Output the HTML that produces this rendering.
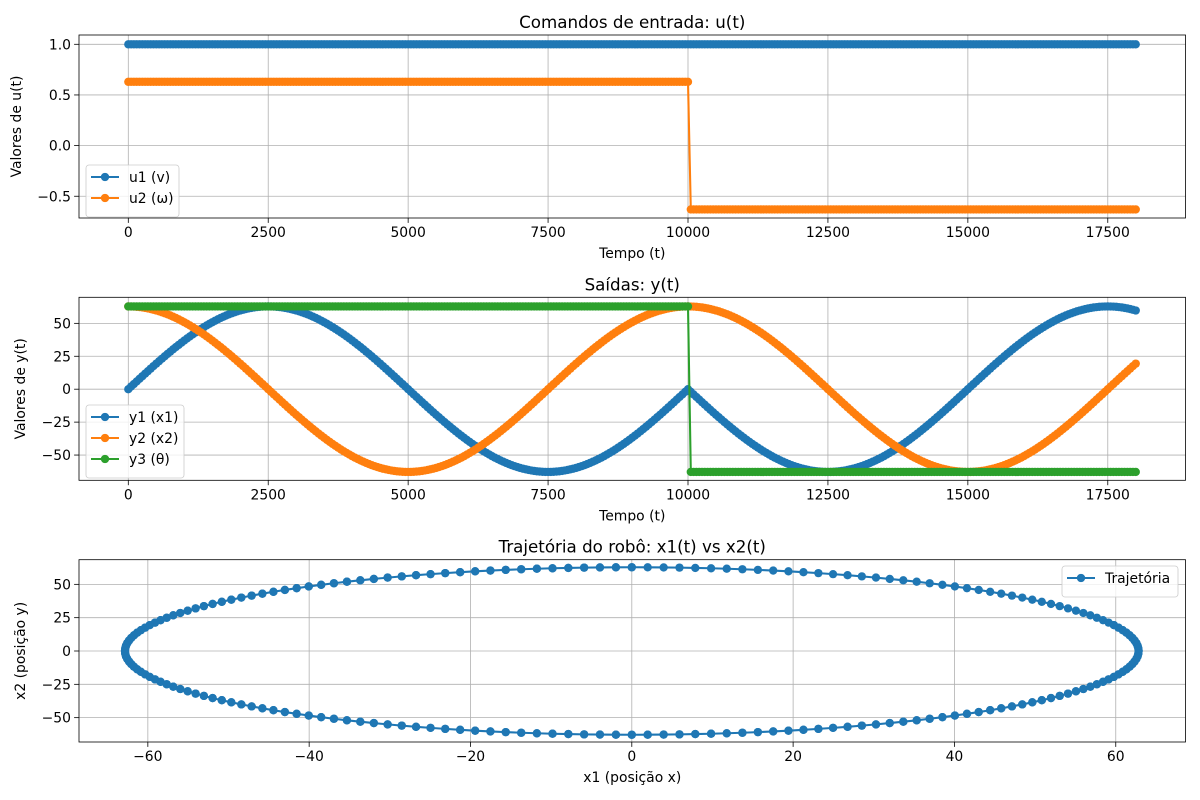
<!DOCTYPE html>
<html><head><meta charset="utf-8"><style>
body{margin:0;background:#fff;}
svg{display:block;font-family:"DejaVu Sans","Liberation Sans",sans-serif;}
</style></head><body>
<svg id="fig" width="1200" height="800" viewBox="0 0 1200 800" xmlns="http://www.w3.org/2000/svg"></svg>
<script>
const u1 = [1,1,1,1,1,1,1,1,1,1,1,1,1,1,1,1,1,1,1,1,1,1,1,1,1,1,1,1,1,1,1,1,1,1,1,1,1,1,1,1,
1,1,1,1,1,1,1,1,1,1,1,1,1,1,1,1,1,1,1,1,1,1,1,1,1,1,1,1,1,1,1,1,1,1,1,1,1,1,1,1,
1,1,1,1,1,1,1,1,1,1,1,1,1,1,1,1,1,1,1,1,1,1,1,1,1,1,1,1,1,1,1,1,1,1,1,1,1,1,1,1,
1,1,1,1,1,1,1,1,1,1,1,1,1,1,1,1,1,1,1,1,1,1,1,1,1,1,1,1,1,1,1,1,1,1,1,1,1,1,1,1,
1,1,1,1,1,1,1,1,1,1,1,1,1,1,1,1,1,1,1,1,1,1,1,1,1,1,1,1,1,1,1,1,1,1,1,1,1,1,1,1,
1,1,1,1,1,1,1,1,1,1,1,1,1,1,1,1,1,1,1,1,1,1,1,1,1,1,1,1,1,1,1,1,1,1,1,1,1,1,1,1,
1,1,1,1,1,1,1,1,1,1,1,1,1,1,1,1,1,1,1,1,1,1,1,1,1,1,1,1,1,1,1,1,1,1,1,1,1,1,1,1,
1,1,1,1,1,1,1,1,1,1,1,1,1,1,1,1,1,1,1,1,1,1,1,1,1,1,1,1,1,1,1,1,1,1,1,1,1,1,1,1,
1,1,1,1,1,1,1,1,1,1,1,1,1,1,1,1,1,1,1,1,1,1,1,1,1,1,1,1,1,1,1,1,1,1,1,1,1,1,1,1,
1];
const u2 = [0.63,0.63,0.63,0.63,0.63,0.63,0.63,0.63,0.63,0.63,0.63,0.63,0.63,0.63,0.63,0.63,0.63,0.63,0.63,0.63,
0.63,0.63,0.63,0.63,0.63,0.63,0.63,0.63,0.63,0.63,0.63,0.63,0.63,0.63,0.63,0.63,0.63,0.63,0.63,0.63,
0.63,0.63,0.63,0.63,0.63,0.63,0.63,0.63,0.63,0.63,0.63,0.63,0.63,0.63,0.63,0.63,0.63,0.63,0.63,0.63,
0.63,0.63,0.63,0.63,0.63,0.63,0.63,0.63,0.63,0.63,0.63,0.63,0.63,0.63,0.63,0.63,0.63,0.63,0.63,0.63,
0.63,0.63,0.63,0.63,0.63,0.63,0.63,0.63,0.63,0.63,0.63,0.63,0.63,0.63,0.63,0.63,0.63,0.63,0.63,0.63,
0.63,0.63,0.63,0.63,0.63,0.63,0.63,0.63,0.63,0.63,0.63,0.63,0.63,0.63,0.63,0.63,0.63,0.63,0.63,0.63,
0.63,0.63,0.63,0.63,0.63,0.63,0.63,0.63,0.63,0.63,0.63,0.63,0.63,0.63,0.63,0.63,0.63,0.63,0.63,0.63,
0.63,0.63,0.63,0.63,0.63,0.63,0.63,0.63,0.63,0.63,0.63,0.63,0.63,0.63,0.63,0.63,0.63,0.63,0.63,0.63,
0.63,0.63,0.63,0.63,0.63,0.63,0.63,0.63,0.63,0.63,0.63,0.63,0.63,0.63,0.63,0.63,0.63,0.63,0.63,0.63,
0.63,0.63,0.63,0.63,0.63,0.63,0.63,0.63,0.63,0.63,0.63,0.63,0.63,0.63,0.63,0.63,0.63,0.63,0.63,0.63,
0.63,
-0.63,-0.63,-0.63,-0.63,-0.63,-0.63,-0.63,-0.63,-0.63,-0.63,-0.63,-0.63,-0.63,-0.63,-0.63,-0.63,-0.63,-0.63,-0.63,-0.63,
-0.63,-0.63,-0.63,-0.63,-0.63,-0.63,-0.63,-0.63,-0.63,-0.63,-0.63,-0.63,-0.63,-0.63,-0.63,-0.63,-0.63,-0.63,-0.63,-0.63,
-0.63,-0.63,-0.63,-0.63,-0.63,-0.63,-0.63,-0.63,-0.63,-0.63,-0.63,-0.63,-0.63,-0.63,-0.63,-0.63,-0.63,-0.63,-0.63,-0.63,
-0.63,-0.63,-0.63,-0.63,-0.63,-0.63,-0.63,-0.63,-0.63,-0.63,-0.63,-0.63,-0.63,-0.63,-0.63,-0.63,-0.63,-0.63,-0.63,-0.63,
-0.63,-0.63,-0.63,-0.63,-0.63,-0.63,-0.63,-0.63,-0.63,-0.63,-0.63,-0.63,-0.63,-0.63,-0.63,-0.63,-0.63,-0.63,-0.63,-0.63,
-0.63,-0.63,-0.63,-0.63,-0.63,-0.63,-0.63,-0.63,-0.63,-0.63,-0.63,-0.63,-0.63,-0.63,-0.63,-0.63,-0.63,-0.63,-0.63,-0.63,
-0.63,-0.63,-0.63,-0.63,-0.63,-0.63,-0.63,-0.63,-0.63,-0.63,-0.63,-0.63,-0.63,-0.63,-0.63,-0.63,-0.63,-0.63,-0.63,-0.63,
-0.63,-0.63,-0.63,-0.63,-0.63,-0.63,-0.63,-0.63,-0.63,-0.63,-0.63,-0.63,-0.63,-0.63,-0.63,-0.63,-0.63,-0.63,-0.63,-0.63];
const y1 = [0,
1.97,3.95,5.91,7.87,9.83,11.77,13.71,15.63,17.53,19.42,21.28,23.13,24.95,26.75,28.52,30.27,31.98,33.66,35.32,36.93,38.51,40.05,41.55,43.01,44.43,45.80,47.13,48.41,49.65,50.83,51.97,53.05,54.08,55.06,55.98,56.85,57.66,58.42,59.11,59.76,60.33,60.86,61.32,61.72,62.06,62.33,62.55,62.71,62.80,62.83,
62.80,62.71,62.55,62.33,62.06,61.72,61.32,60.86,60.33,59.76,59.11,58.42,57.66,56.85,55.98,55.06,54.08,53.05,51.97,50.83,49.65,48.41,47.13,45.80,44.43,43.01,41.55,40.05,38.51,36.93,35.32,33.66,31.98,30.27,28.52,26.75,24.95,23.13,21.28,19.42,17.53,15.63,13.71,11.77,9.83,7.87,5.91,3.95,1.97,0,
-1.97,-3.95,-5.91,-7.87,-9.83,-11.77,-13.71,-15.63,-17.53,-19.42,-21.28,-23.13,-24.95,-26.75,-28.52,-30.27,-31.98,-33.66,-35.32,-36.93,-38.51,-40.05,-41.55,-43.01,-44.43,-45.80,-47.13,-48.41,-49.65,-50.83,-51.97,-53.05,-54.08,-55.06,-55.98,-56.85,-57.66,-58.42,-59.11,-59.76,-60.33,-60.86,-61.32,-61.72,-62.06,-62.33,-62.55,-62.71,-62.80,-62.83,
-62.80,-62.71,-62.55,-62.33,-62.06,-61.72,-61.32,-60.86,-60.33,-59.76,-59.11,-58.42,-57.66,-56.85,-55.98,-55.06,-54.08,-53.05,-51.97,-50.83,-49.65,-48.41,-47.13,-45.80,-44.43,-43.01,-41.55,-40.05,-38.51,-36.93,-35.32,-33.66,-31.98,-30.27,-28.52,-26.75,-24.95,-23.13,-21.28,-19.42,-17.53,-15.63,-13.71,-11.77,-9.83,-7.87,-5.91,-3.95,-1.97,0,
-1.97,-3.95,-5.91,-7.87,-9.83,-11.77,-13.71,-15.63,-17.53,-19.42,-21.28,-23.13,-24.95,-26.75,-28.52,-30.27,-31.98,-33.66,-35.32,-36.93,-38.51,-40.05,-41.55,-43.01,-44.43,-45.80,-47.13,-48.41,-49.65,-50.83,-51.97,-53.05,-54.08,-55.06,-55.98,-56.85,-57.66,-58.42,-59.11,-59.76,-60.33,-60.86,-61.32,-61.72,-62.06,-62.33,-62.55,-62.71,-62.80,-62.83,
-62.80,-62.71,-62.55,-62.33,-62.06,-61.72,-61.32,-60.86,-60.33,-59.76,-59.11,-58.42,-57.66,-56.85,-55.98,-55.06,-54.08,-53.05,-51.97,-50.83,-49.65,-48.41,-47.13,-45.80,-44.43,-43.01,-41.55,-40.05,-38.51,-36.93,-35.32,-33.66,-31.98,-30.27,-28.52,-26.75,-24.95,-23.13,-21.28,-19.42,-17.53,-15.63,-13.71,-11.77,-9.83,-7.87,-5.91,-3.95,-1.97,0,
1.97,3.95,5.91,7.87,9.83,11.77,13.71,15.63,17.53,19.42,21.28,23.13,24.95,26.75,28.52,30.27,31.98,33.66,35.32,36.93,38.51,40.05,41.55,43.01,44.43,45.80,47.13,48.41,49.65,50.83,51.97,53.05,54.08,55.06,55.98,56.85,57.66,58.42,59.11,59.76,60.33,60.86,61.32,61.72,62.06,62.33,62.55,62.71,62.80,62.83,
62.80,62.71,62.55,62.33,62.06,61.72,61.32,60.86,60.33,59.76];
const y2 = [62.83,
62.80,62.71,62.55,62.33,62.06,61.72,61.32,60.86,60.33,59.76,59.11,58.42,57.66,56.85,55.98,55.06,54.08,53.05,51.97,50.83,49.65,48.41,47.13,45.80,44.43,43.01,41.55,40.05,38.51,36.93,35.32,33.66,31.98,30.27,28.52,26.75,24.95,23.13,21.28,19.42,17.53,15.63,13.71,11.77,9.83,7.87,5.91,3.95,1.97,0,
-1.97,-3.95,-5.91,-7.87,-9.83,-11.77,-13.71,-15.63,-17.53,-19.42,-21.28,-23.13,-24.95,-26.75,-28.52,-30.27,-31.98,-33.66,-35.32,-36.93,-38.51,-40.05,-41.55,-43.01,-44.43,-45.80,-47.13,-48.41,-49.65,-50.83,-51.97,-53.05,-54.08,-55.06,-55.98,-56.85,-57.66,-58.42,-59.11,-59.76,-60.33,-60.86,-61.32,-61.72,-62.06,-62.33,-62.55,-62.71,-62.80,-62.83,
-62.80,-62.71,-62.55,-62.33,-62.06,-61.72,-61.32,-60.86,-60.33,-59.76,-59.11,-58.42,-57.66,-56.85,-55.98,-55.06,-54.08,-53.05,-51.97,-50.83,-49.65,-48.41,-47.13,-45.80,-44.43,-43.01,-41.55,-40.05,-38.51,-36.93,-35.32,-33.66,-31.98,-30.27,-28.52,-26.75,-24.95,-23.13,-21.28,-19.42,-17.53,-15.63,-13.71,-11.77,-9.83,-7.87,-5.91,-3.95,-1.97,0,
1.97,3.95,5.91,7.87,9.83,11.77,13.71,15.63,17.53,19.42,21.28,23.13,24.95,26.75,28.52,30.27,31.98,33.66,35.32,36.93,38.51,40.05,41.55,43.01,44.43,45.80,47.13,48.41,49.65,50.83,51.97,53.05,54.08,55.06,55.98,56.85,57.66,58.42,59.11,59.76,60.33,60.86,61.32,61.72,62.06,62.33,62.55,62.71,62.80,62.83,
62.80,62.71,62.55,62.33,62.06,61.72,61.32,60.86,60.33,59.76,59.11,58.42,57.66,56.85,55.98,55.06,54.08,53.05,51.97,50.83,49.65,48.41,47.13,45.80,44.43,43.01,41.55,40.05,38.51,36.93,35.32,33.66,31.98,30.27,28.52,26.75,24.95,23.13,21.28,19.42,17.53,15.63,13.71,11.77,9.83,7.87,5.91,3.95,1.97,0,
-1.97,-3.95,-5.91,-7.87,-9.83,-11.77,-13.71,-15.63,-17.53,-19.42,-21.28,-23.13,-24.95,-26.75,-28.52,-30.27,-31.98,-33.66,-35.32,-36.93,-38.51,-40.05,-41.55,-43.01,-44.43,-45.80,-47.13,-48.41,-49.65,-50.83,-51.97,-53.05,-54.08,-55.06,-55.98,-56.85,-57.66,-58.42,-59.11,-59.76,-60.33,-60.86,-61.32,-61.72,-62.06,-62.33,-62.55,-62.71,-62.80,-62.83,
-62.80,-62.71,-62.55,-62.33,-62.06,-61.72,-61.32,-60.86,-60.33,-59.76,-59.11,-58.42,-57.66,-56.85,-55.98,-55.06,-54.08,-53.05,-51.97,-50.83,-49.65,-48.41,-47.13,-45.80,-44.43,-43.01,-41.55,-40.05,-38.51,-36.93,-35.32,-33.66,-31.98,-30.27,-28.52,-26.75,-24.95,-23.13,-21.28,-19.42,-17.53,-15.63,-13.71,-11.77,-9.83,-7.87,-5.91,-3.95,-1.97,0,
1.97,3.95,5.91,7.87,9.83,11.77,13.71,15.63,17.53,19.42];
const y3 = [62.83,62.83,62.83,62.83,62.83,62.83,62.83,62.83,62.83,62.83,62.83,62.83,62.83,62.83,62.83,62.83,62.83,62.83,62.83,62.83,
62.83,62.83,62.83,62.83,62.83,62.83,62.83,62.83,62.83,62.83,62.83,62.83,62.83,62.83,62.83,62.83,62.83,62.83,62.83,62.83,
62.83,62.83,62.83,62.83,62.83,62.83,62.83,62.83,62.83,62.83,62.83,62.83,62.83,62.83,62.83,62.83,62.83,62.83,62.83,62.83,
62.83,62.83,62.83,62.83,62.83,62.83,62.83,62.83,62.83,62.83,62.83,62.83,62.83,62.83,62.83,62.83,62.83,62.83,62.83,62.83,
62.83,62.83,62.83,62.83,62.83,62.83,62.83,62.83,62.83,62.83,62.83,62.83,62.83,62.83,62.83,62.83,62.83,62.83,62.83,62.83,
62.83,62.83,62.83,62.83,62.83,62.83,62.83,62.83,62.83,62.83,62.83,62.83,62.83,62.83,62.83,62.83,62.83,62.83,62.83,62.83,
62.83,62.83,62.83,62.83,62.83,62.83,62.83,62.83,62.83,62.83,62.83,62.83,62.83,62.83,62.83,62.83,62.83,62.83,62.83,62.83,
62.83,62.83,62.83,62.83,62.83,62.83,62.83,62.83,62.83,62.83,62.83,62.83,62.83,62.83,62.83,62.83,62.83,62.83,62.83,62.83,
62.83,62.83,62.83,62.83,62.83,62.83,62.83,62.83,62.83,62.83,62.83,62.83,62.83,62.83,62.83,62.83,62.83,62.83,62.83,62.83,
62.83,62.83,62.83,62.83,62.83,62.83,62.83,62.83,62.83,62.83,62.83,62.83,62.83,62.83,62.83,62.83,62.83,62.83,62.83,62.83,
62.83,
-62.83,-62.83,-62.83,-62.83,-62.83,-62.83,-62.83,-62.83,-62.83,-62.83,-62.83,-62.83,-62.83,-62.83,-62.83,-62.83,-62.83,-62.83,-62.83,-62.83,
-62.83,-62.83,-62.83,-62.83,-62.83,-62.83,-62.83,-62.83,-62.83,-62.83,-62.83,-62.83,-62.83,-62.83,-62.83,-62.83,-62.83,-62.83,-62.83,-62.83,
-62.83,-62.83,-62.83,-62.83,-62.83,-62.83,-62.83,-62.83,-62.83,-62.83,-62.83,-62.83,-62.83,-62.83,-62.83,-62.83,-62.83,-62.83,-62.83,-62.83,
-62.83,-62.83,-62.83,-62.83,-62.83,-62.83,-62.83,-62.83,-62.83,-62.83,-62.83,-62.83,-62.83,-62.83,-62.83,-62.83,-62.83,-62.83,-62.83,-62.83,
-62.83,-62.83,-62.83,-62.83,-62.83,-62.83,-62.83,-62.83,-62.83,-62.83,-62.83,-62.83,-62.83,-62.83,-62.83,-62.83,-62.83,-62.83,-62.83,-62.83,
-62.83,-62.83,-62.83,-62.83,-62.83,-62.83,-62.83,-62.83,-62.83,-62.83,-62.83,-62.83,-62.83,-62.83,-62.83,-62.83,-62.83,-62.83,-62.83,-62.83,
-62.83,-62.83,-62.83,-62.83,-62.83,-62.83,-62.83,-62.83,-62.83,-62.83,-62.83,-62.83,-62.83,-62.83,-62.83,-62.83,-62.83,-62.83,-62.83,-62.83,
-62.83,-62.83,-62.83,-62.83,-62.83,-62.83,-62.83,-62.83,-62.83,-62.83,-62.83,-62.83,-62.83,-62.83,-62.83,-62.83,-62.83,-62.83,-62.83,-62.83];
const tStep = 50;
const tTicks = [0,2500,5000,7500,10000,12500,15000,17500];
const uTicks = [-0.5,0,0.5,1.0];
const yTicks = [-50,-25,0,25,50];
const x1Ticks = [-60,-40,-20,0,20,40,60];
const x2Ticks = [-50,-25,0,25,50];

const NS='http://www.w3.org/2000/svg';
const svg=document.getElementById('fig');
function el(tag,attrs,parent){const e=document.createElementNS(NS,tag);for(const k in attrs)e.setAttribute(k,attrs[k]);(parent||svg).appendChild(e);return e;}
function fmt(v,dec){let s=dec!=null?v.toFixed(dec):String(v);return s.replace('-','\u2212');}
const C1='#1f77b4',C2='#ff7f0e',C3='#2ca02c';

function axes(name,box,xs,ys,xt,yt,ydec,title,xlabel,ylabel,ylabX){
  const g=el('g',{});
  
  
  xt.forEach(v=>{const x=xs(v);
    const l=el('line',{x1:x,x2:x,y1:box.t,y2:box.b,stroke:'#b0b0b0','stroke-width':0.8},g);
    
    el('line',{x1:x,x2:x,y1:box.b,y2:box.b+4.9,stroke:'#000','stroke-width':0.8},g);
    const t=el('text',{x:x,y:box.b+19,'font-size':13.9,'text-anchor':'middle',fill:'#000'},g);t.textContent=fmt(v);
    });
  yt.forEach(v=>{const y=ys(v);
    const l=el('line',{x1:box.l,x2:box.r,y1:y,y2:y,stroke:'#b0b0b0','stroke-width':0.8},g);
    
    el('line',{x1:box.l-4.9,x2:box.l,y1:y,y2:y,stroke:'#000','stroke-width':0.8},g);
    const t=el('text',{x:box.l-8,y:y+5,'font-size':13.9,'text-anchor':'end',fill:'#000'},g);t.textContent=fmt(v,ydec);
    });
  const tt=el('text',{x:(box.l+box.r)/2,y:box.t-7,'font-size':16.7,'text-anchor':'middle'},g);tt.textContent=title;
  
  const xl=el('text',{x:(box.l+box.r)/2,y:box.b+40,'font-size':13.9,'text-anchor':'middle'},g);xl.textContent=xlabel;
  
  const cy=(box.t+box.b)/2;
  const yl=el('text',{x:ylabX,y:cy,'font-size':13.9,'text-anchor':'middle',transform:`rotate(-90 ${ylabX} ${cy})`},g);yl.textContent=ylabel;
  
  return g;
}
function frame(box){const r=el('rect',{x:box.l,y:box.t,width:box.r-box.l,height:box.b-box.t,fill:'none',stroke:'#000','stroke-width':0.8});
  }
function series(name,xsArr,ysArr,xs,ys,color){
  const g=el('g',{});
  
  
  const pts=xsArr.map((x,i)=>xs(x).toFixed(2)+','+ys(ysArr[i]).toFixed(2)).join(' ');
  el('polyline',{points:pts,fill:'none',stroke:color,'stroke-width':2.08,'stroke-linejoin':'round'},g);
  xsArr.forEach((x,i)=>{const c=el('circle',{cx:xs(x),cy:ys(ysArr[i]),r:4.17,fill:color},g);
    });
}
function legend(x,y,w,entries){
  const g=el('g',{});
  
  
  const h=entries.length*21+10;
  el('rect',{x:x,y:y,width:w,height:h,rx:3,fill:'#fff','fill-opacity':0.8,stroke:'#cccccc','stroke-width':0.8},g);
  entries.forEach((e,i)=>{const cy=y+12+i*21;
    const eg=el('g',{},g);
    
    
    el('line',{x1:x+5,x2:x+33,y1:cy,y2:cy,stroke:e[1],'stroke-width':2.08},eg);
    el('circle',{cx:x+19,cy:cy,r:4.17,fill:e[1]},eg);
    const t=el('text',{x:x+43,y:cy+5,'font-size':13.9},eg);t.textContent=e[0];});
}
const times=y1.map((_,i)=>i*tStep);

const b1={l:79,r:1185.5,t:35,b:218};
const tx=v=>128.3+v*0.05597;
const uy=v=>44.3+(1-v)*101.3;
axes('inputs-chart',b1,tx,uy,tTicks,uTicks,1,'Comandos de entrada: u(t)','Tempo (t)','Valores de u(t)',21);
series('series-u1',times,u1,tx,uy,C1);
series('series-u2',times,u2,tx,uy,C2);
frame(b1);
legend(86,165,93,[['u1 (v)',C1],['u2 (\u03c9)',C2]]);

const b2={l:79,r:1185.5,t:297.3,b:480.3};
const yy=v=>389.2-v*1.317;
axes('outputs-chart',b2,tx,yy,tTicks,yTicks,null,'Saídas: y(t)','Tempo (t)','Valores de y(t)',25);
series('series-y1',times,y1,tx,yy,C1);
series('series-y2',times,y2,tx,yy,C2);
series('series-y3',times,y3,tx,yy,C3);
frame(b2);
legend(86,405,98,[['y1 (x1)',C1],['y2 (x2)',C2],['y3 (\u03b8)',C3]]);

const b3={l:79,r:1185.5,t:559.7,b:742};
const px=v=>631.8+v*8.066;
const py=v=>651-v*1.333;
axes('trajectory-chart',b3,px,py,x1Ticks,x2Ticks,null,'Trajetória do robô: x1(t) vs x2(t)','x1 (posição x)','x2 (posição y)',25);
series('series-trajectory',y1,y2,px,py,C1);
frame(b3);
legend(1062,566,116,[['Trajetória',C1]]);
</script>
</body></html>
